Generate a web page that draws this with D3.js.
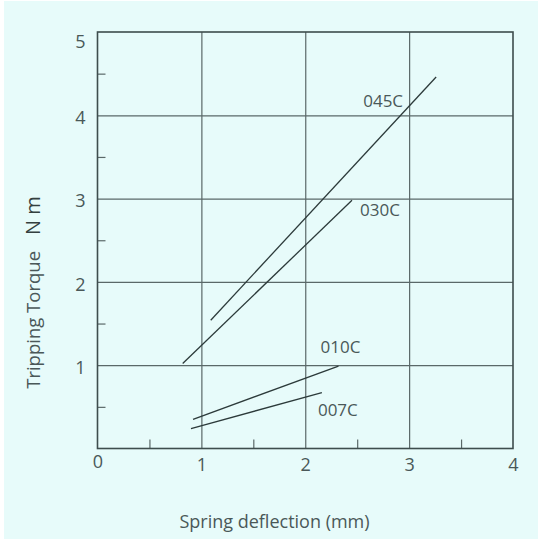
<!DOCTYPE html>
<html>
<head>
<meta charset="utf-8">
<script src="https://cdn.jsdelivr.net/npm/d3@7"></script>
<style>
  html, body { margin: 0; padding: 0; background: #ffffff; }
  svg { display: block; }
  text { font-family: "Open Sans", "Noto Sans", sans-serif; fill: #4a5858; }
</style>
</head>
<body>
<div id="chart"></div>
<script>
// series: each curve is a straight segment
var series = ["045C", "030C", "010C", "007C"];
var startDeflection = [1.09, 0.82, 0.92, 0.90];
var startTorque     = [1.54, 1.02, 0.35, 0.24];
var endDeflection   = [3.26, 2.45, 2.32, 2.16];
var endTorque       = [4.46, 2.98, 0.99, 0.67];

var xTicks = [0, 1, 2, 3, 4];
var yTicks = [1, 2, 3, 4, 5];
var xMinor = [0.5, 1.5, 2.5, 3.5];
var yMinor = [0.5, 1.5, 2.5, 3.5, 4.5];

// label offsets from the upper end of each segment (px)
var labelOffset = [[-53, 24], [28, 10], [2, -19], [16, 17]];

var W = 538, H = 539;
var margin = {top: 32, right: 25, bottom: 90.5, left: 97.5},
    width = W - margin.left - margin.right,
    height = H - margin.top - margin.bottom;

var root = d3.select("#chart").append("svg")
    .attr("width", W)
    .attr("height", H);

root.append("rect")
    .attr("x", 4).attr("y", 1)
    .attr("width", W - 4).attr("height", H - 1)
    .attr("fill", "#e7fbfa");

var svg = root.append("g")
    .attr("transform", "translate(" + margin.left + "," + margin.top + ")");

var x = d3.scaleLinear().domain([0, 4]).range([0, width]);
var y = d3.scaleLinear().domain([0, 5]).range([height, 0]);

// grid lines
svg.append("g")
    .attr("class", "grid")
    .attr("transform", "translate(0," + height + ")")
    .call(d3.axisBottom(x).tickValues([1, 2, 3]).tickSize(-height).tickFormat(""));
svg.append("g")
    .attr("class", "grid")
    .call(d3.axisLeft(y).tickValues([1, 2, 3, 4]).tickSize(-width).tickFormat(""));

// minor ticks pointing inward
svg.append("g")
    .attr("class", "grid")
    .attr("transform", "translate(0," + height + ")")
    .call(d3.axisBottom(x).tickValues(xMinor).tickSize(-9).tickFormat(""));
svg.append("g")
    .attr("class", "grid")
    .call(d3.axisLeft(y).tickValues(yMinor).tickSize(-8).tickFormat(""));

svg.selectAll(".grid path").remove();
svg.selectAll(".grid line")
    .attr("stroke", "#5a6868")
    .attr("stroke-width", 1.2);

// frame
svg.append("rect")
    .attr("width", width)
    .attr("height", height)
    .attr("fill", "none")
    .attr("stroke", "#3e4d4d")
    .attr("stroke-width", 1.6);

// tick labels
var xAxis = svg.append("g")
    .attr("transform", "translate(0," + height + ")")
    .call(d3.axisBottom(x).tickValues(xTicks).tickSize(0).tickPadding(10).tickFormat(d3.format("d")));
xAxis.select(".domain").remove();
xAxis.selectAll("text")
    .style("font-size", "18px")
    .attr("fill", "#4a5858")
    .attr("dy", function(d) { return d === 0 ? "0.52em" : "0.71em"; });

var yAxis = svg.append("g")
    .call(d3.axisLeft(y).tickValues(yTicks).tickSize(0).tickPadding(12).tickFormat(d3.format("d")));
yAxis.select(".domain").remove();
yAxis.selectAll("text")
    .style("font-size", "18px")
    .attr("fill", "#4a5858")
    .attr("dy", function(d) { return d === 5 ? "0.85em" : "0.45em"; });

// curves
svg.selectAll(".curve")
    .data(series)
    .enter()
    .append("line")
      .attr("class", "curve")
      .attr("x1", function(d, i) { return x(startDeflection[i]); })
      .attr("y1", function(d, i) { return y(startTorque[i]); })
      .attr("x2", function(d, i) { return x(endDeflection[i]); })
      .attr("y2", function(d, i) { return y(endTorque[i]); })
      .attr("stroke", "#2c3a3a")
      .attr("stroke-width", 1.3);

svg.selectAll(".curve-label")
    .data(series)
    .enter()
    .append("text")
      .attr("class", "curve-label")
      .attr("x", function(d, i) { return x(endDeflection[i]) + labelOffset[i][0]; })
      .attr("y", function(d, i) { return y(endTorque[i]) + labelOffset[i][1]; })
      .attr("dy", "0.36em")
      .attr("text-anchor", "middle")
      .style("font-size", "17px")
      .text(function(d) { return d; });

// axis titles
root.append("text")
    .attr("x", 274.5)
    .attr("y", 528)
    .attr("text-anchor", "middle")
    .style("font-size", "18px")
    .text("Spring deflection (mm)");

var yTitle = root.append("text")
    .attr("transform", "translate(39.5,292.5)rotate(-90)")
    .attr("text-anchor", "middle");
yTitle.append("tspan")
    .style("font-size", "18.5px")
    .text("Tripping Torque");
yTitle.append("tspan")
    .attr("dx", 16)
    .style("font-size", "20px")
    .style("font-weight", "500")
    .style("fill", "#34403f")
    .text("N m");
</script>
</body>
</html>
